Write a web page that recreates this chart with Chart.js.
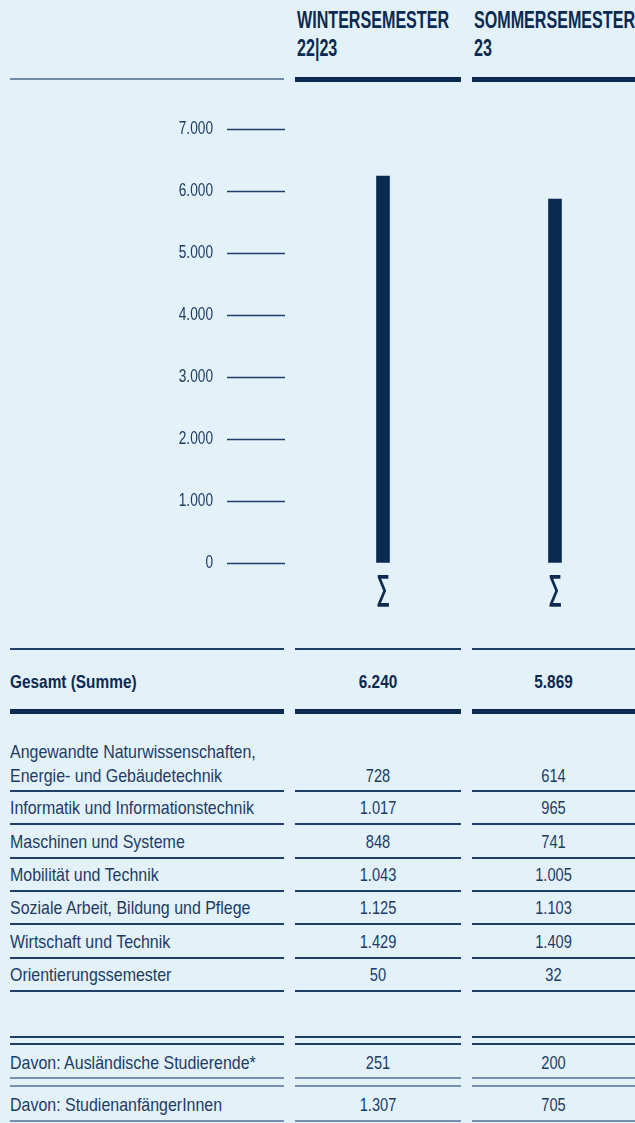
<!DOCTYPE html>
<html lang="de">
<head>
<meta charset="utf-8">
<title>Studierende</title>
<script src="https://cdn.jsdelivr.net/npm/chart.js@4.4.1/dist/chart.umd.min.js"></script>
<style>
  html, body { margin: 0; padding: 0; width: 635px; height: 1123px; overflow: hidden; background: #e3f1f9; }
  body { position: relative; font-family: 'Liberation Sans', Roboto, sans-serif; color: #1d3c65; }
  .txt { position: absolute; white-space: nowrap; height: 24px; line-height: 24px; font-size: 19px;
         transform: scaleX(0.84); transform-origin: left center; }
  .num { transform: scaleX(0.77); transform-origin: center center; text-align: center; }
  .bold { font-weight: bold; color: #0b2a52; transform: scaleX(0.81); }
  .head { font-size: 23px; font-weight: bold; color: #0b2a52; transform: scaleX(0.70); }
  .ln { position: absolute; }
  #chartBox { position: absolute; left: 0; top: 100px; width: 641px; height: 520px; }
</style>
</head>
<body>
<div id="chartBox"><canvas id="studChart" width="641" height="520"></canvas></div>

<script>
const semesterNames = ['Wintersemester 22|23', 'Sommersemester 23'];
const headerLines = [['WINTERSEMESTER', '22|23'], ['SOMMERSEMESTER', '23']];
const totals = [6240, 5869];
const sumSymbol = '∑';
const yTicks = [0, 1000, 2000, 3000, 4000, 5000, 6000, 7000];

const faculties = [
  'Angewandte Naturwissenschaften,\nEnergie- und Gebäudetechnik',
  'Informatik und Informationstechnik',
  'Maschinen und Systeme',
  'Mobilität und Technik',
  'Soziale Arbeit, Bildung und Pflege',
  'Wirtschaft und Technik',
  'Orientierungssemester'
];
const winterValues = [728, 1017, 848, 1043, 1125, 1429, 50];
const summerValues = [614, 965, 741, 1005, 1103, 1409, 32];

const extraRows = ['Davon: Ausländische Studierende*', 'Davon: StudienanfängerInnen'];
const extraWinter = [251, 1307];
const extraSummer = [200, 705];

const NAVY = '#0b2a52';
const LINE = '#1f3f6a';
const LIGHT = '#7590b0';
const cols = [[10, 284], [295, 461], [472, 635]];

function fmt(n) {
  return String(n).replace(/\B(?=(\d{3})+(?!\d))/g, '.');
}

function hline(x1, x2, y, h, color) {
  const d = document.createElement('div');
  d.className = 'ln';
  d.style.left = x1 + 'px';
  d.style.width = (x2 - x1) + 'px';
  d.style.top = y + 'px';
  d.style.height = h + 'px';
  d.style.background = color;
  document.body.appendChild(d);
}

// text centred vertically on y; numbers centred inside their column
function label(str, col, y, cls, centered) {
  const d = document.createElement('div');
  d.className = 'txt ' + (cls || '');
  d.textContent = str;
  d.style.top = (y - 12) + 'px';
  d.style.left = col[0] + 'px';
  if (centered) {
    d.style.width = (col[1] - col[0]) + 'px';
    d.style.textAlign = 'center';
    d.style.transformOrigin = 'center center';
  }
  document.body.appendChild(d);
}

// header
headerLines.forEach((lines, i) => {
  lines.forEach((t, j) => {
    const d = document.createElement('div');
    d.className = 'txt head';
    d.textContent = t;
    d.style.left = (cols[i + 1][0] + 2) + 'px';
    d.style.top = (8 + j * 28) + 'px';
    document.body.appendChild(d);
  });
});
hline(cols[0][0], cols[0][1], 78, 2, '#6f8aa8');
hline(cols[1][0], cols[1][1], 77, 5, NAVY);
hline(cols[2][0], cols[2][1], 77, 5, NAVY);

// Gesamt
cols.forEach(c => hline(c[0], c[1], 648, 2, LINE));
label('Gesamt (Summe)', cols[0], 682, 'bold');
totals.forEach((v, i) => label(fmt(v), cols[i + 1], 682, 'bold', true));
cols.forEach(c => hline(c[0], c[1], 709, 5, NAVY));

// Fakultäten
const rowPitch = 33.3;
faculties.forEach((name, i) => {
  const lineY = Math.round(790 + rowPitch * i);
  const parts = name.split('\n');
  if (parts.length > 1) {
    label(parts[0], cols[0], lineY - 38);
    label(parts[1], cols[0], lineY - 14);
  } else {
    label(name, cols[0], lineY - 15);
  }
  const cy = lineY - (parts.length > 1 ? 14 : 15);
  label(fmt(winterValues[i]), cols[1], cy, 'num', true);
  label(fmt(summerValues[i]), cols[2], cy, 'num', true);
  cols.forEach(c => hline(c[0], c[1], lineY, 2, LINE));
});

// Davon-Zeilen
cols.forEach(c => { hline(c[0], c[1], 1036, 2, LINE); hline(c[0], c[1], 1043, 2, LINE); });
extraRows.forEach((name, i) => {
  const cy = 1063 + i * 42;
  label(name, cols[0], cy);
  label(fmt(extraWinter[i]), cols[1], cy, 'num', true);
  label(fmt(extraSummer[i]), cols[2], cy, 'num', true);
});
cols.forEach(c => {
  hline(c[0], c[1], 1077, 2, LIGHT);
  hline(c[0], c[1], 1085, 2, LIGHT);
  hline(c[0], c[1], 1120, 2, LIGHT);
});

// squeeze canvas text horizontally, like the narrow font of the original
const condensePlugin = {
  id: 'condense',
  beforeDraw(chart) {
    const c = chart.ctx;
    if (c._condensed) return;
    const orig = c.fillText.bind(c);
    c.fillText = (t, x, y) => {
      const w = c.measureText(t).width;
      orig(t, x, y, w * (t === sumSymbol ? 0.55 : 0.76));
    };
    c._condensed = true;
  }
};

// Balkendiagramm
const ctx = document.getElementById('studChart').getContext('2d');
new Chart(ctx, {
  type: 'bar',
  data: {
    labels: semesterNames,
    datasets: [{
      label: 'Studierende gesamt',
      data: totals,
      backgroundColor: NAVY,
      borderWidth: 0,
      barThickness: 13
    }]
  },
  plugins: [condensePlugin],
  options: {
    responsive: false,
    animation: false,
    layout: { padding: { top: 29, left: 0, right: 0, bottom: 0 } },
    plugins: { legend: { display: false }, tooltip: { enabled: false } },
    scales: {
      x: {
        grid: { display: false, drawTicks: false },
        border: { display: false },
        ticks: {
          callback: () => sumSymbol,
          color: NAVY,
          font: { family: 'Liberation Sans', size: 35, weight: 'bold' },
          padding: 5,
          maxRotation: 0
        },
        afterFit: s => { s.height = 57; }
      },
      y: {
        min: 0,
        max: 7000,
        afterBuildTicks: s => { s.ticks = yTicks.map(v => ({ value: v })); },
        border: { display: false },
        grid: {
          drawOnChartArea: false,
          tickLength: 70,
          tickColor: LINE,
          tickWidth: 1.5,
          tickBorderDash: [58, 200]
        },
        ticks: {
          callback: v => fmt(v),
          color: '#1d3c65',
          font: { family: 'Liberation Sans', size: 18 },
          padding: 14
        },
        afterFit: s => { s.width = 297; }
      }
    }
  }
});
</script>
</body>
</html>
